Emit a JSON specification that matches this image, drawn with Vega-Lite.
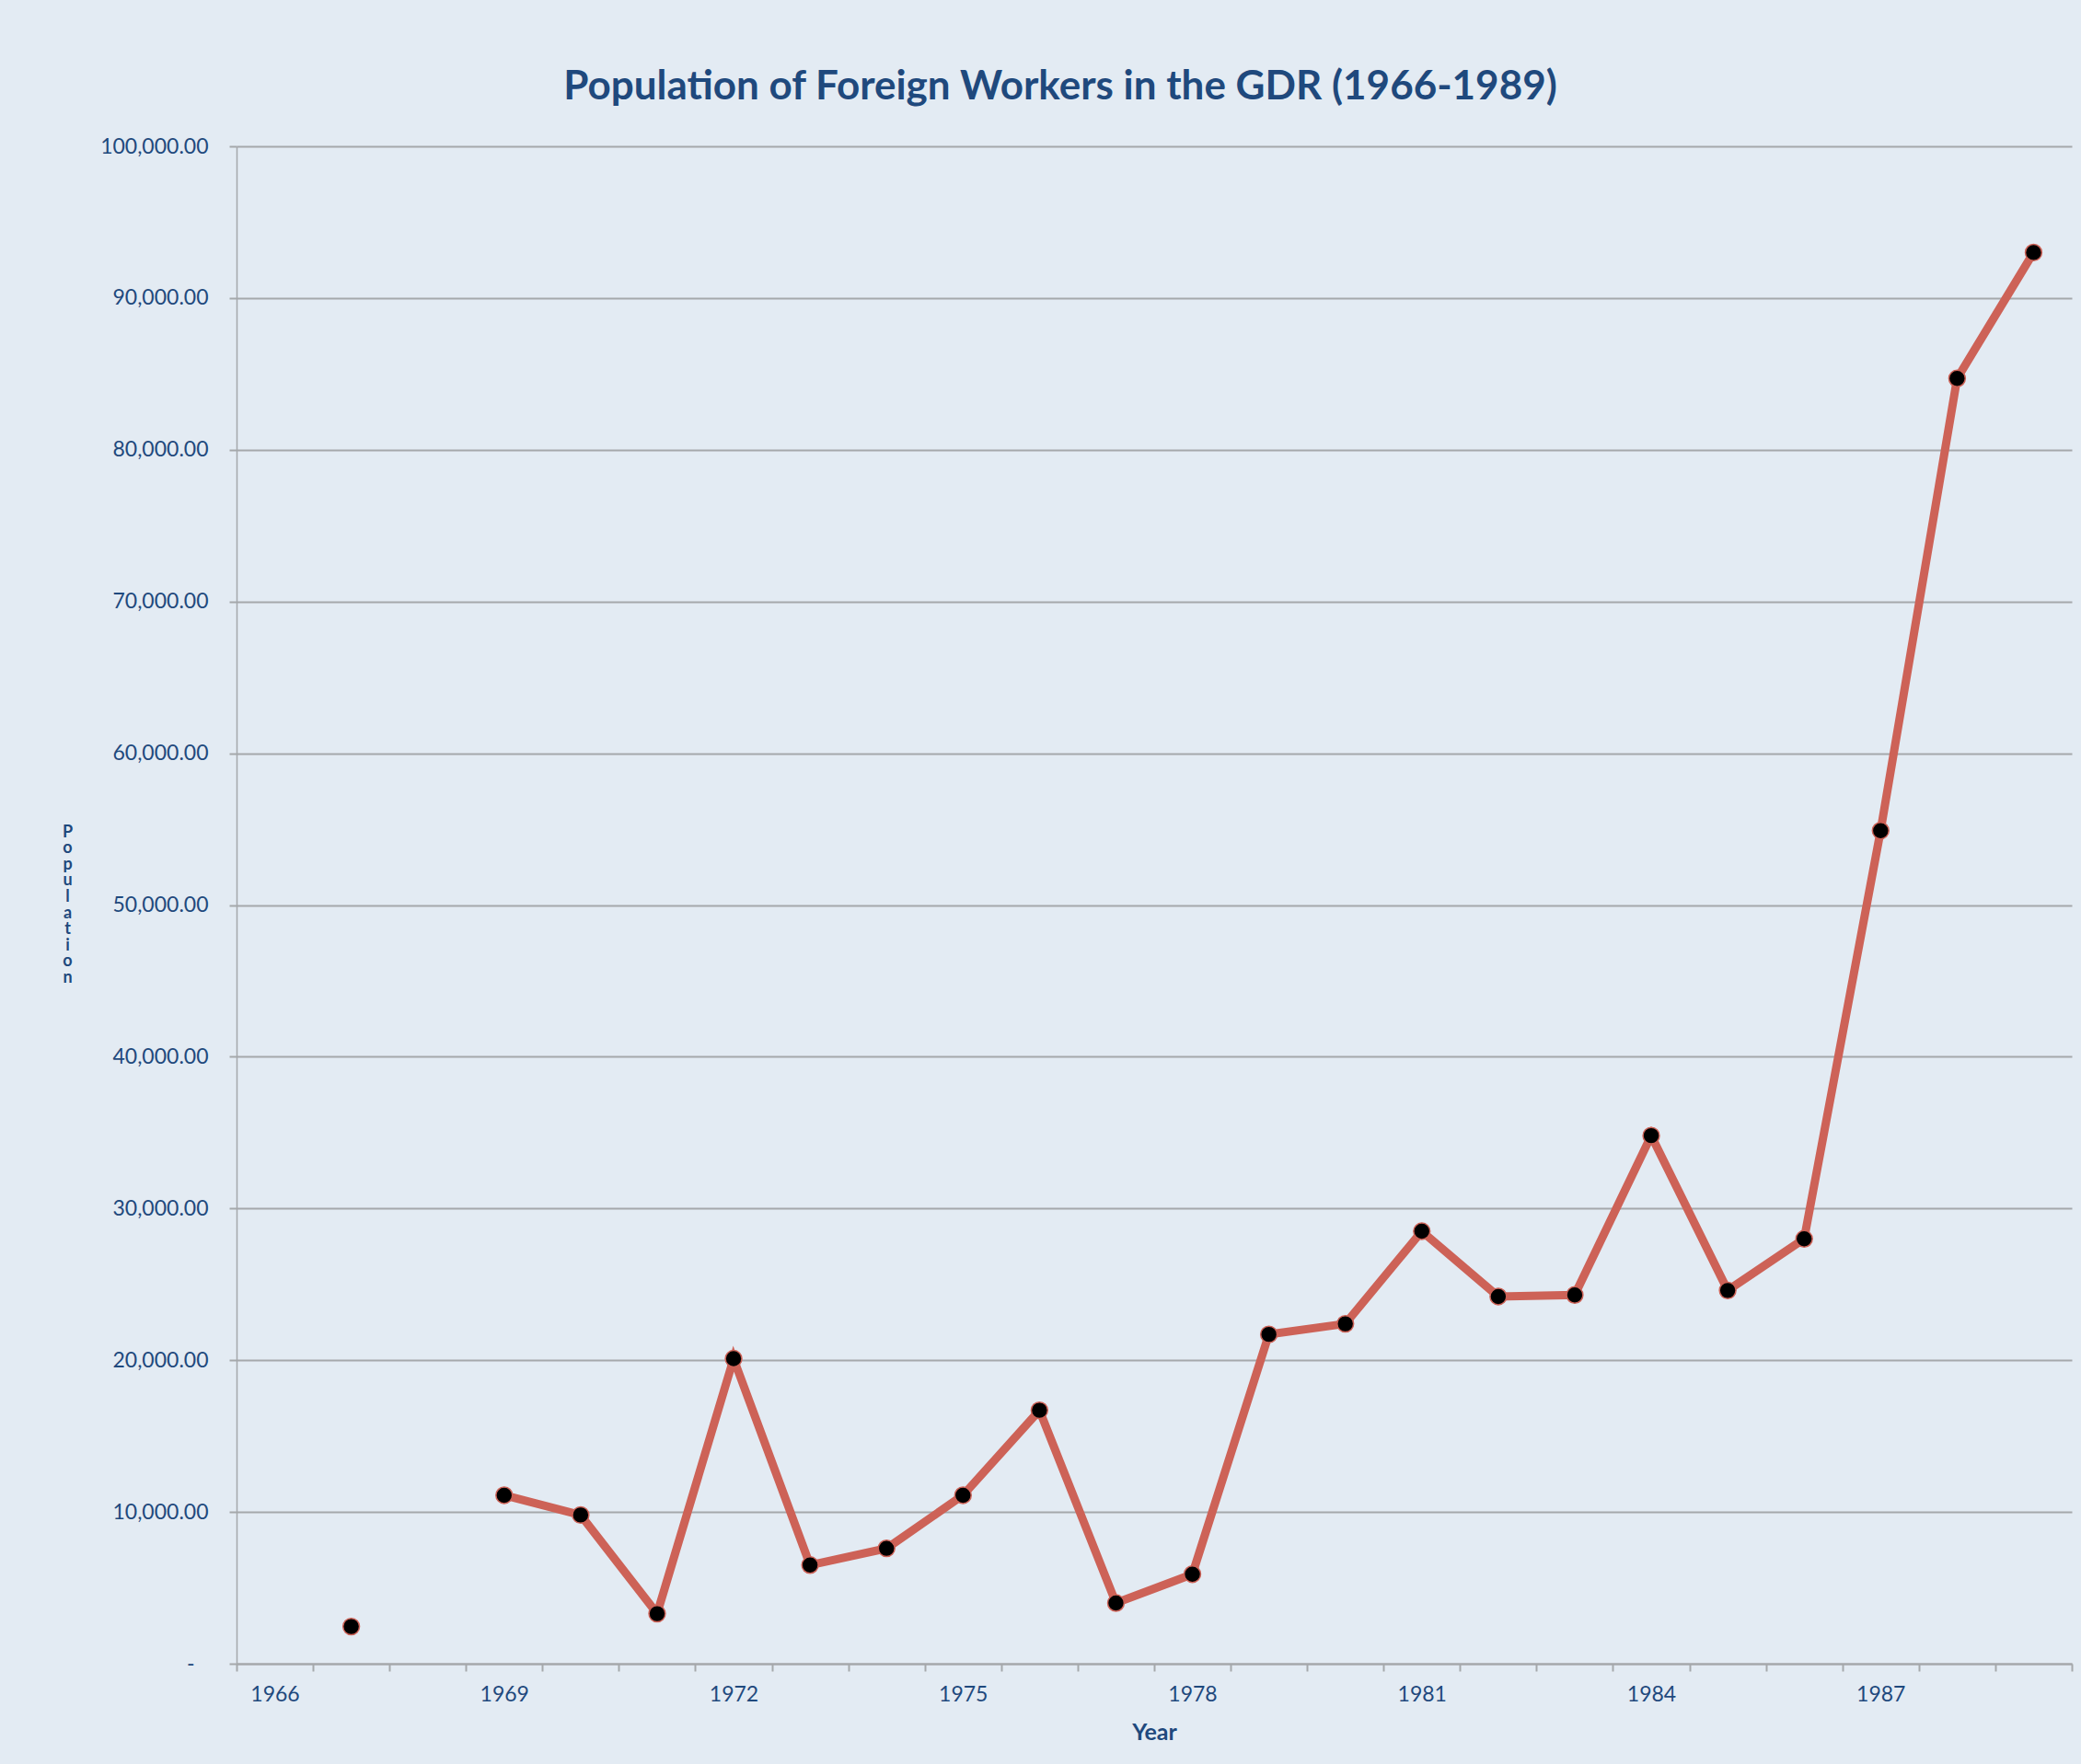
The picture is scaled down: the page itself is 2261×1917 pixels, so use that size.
{
  "$schema": "https://vega.github.io/schema/vega-lite/v6.json",
  "width": 1994,
  "height": 1649,
  "autosize": {"type": "none"},
  "padding": {"left": 257, "top": 159, "right": 10, "bottom": 109},
  "background": "#e3ebf3",
  "title": {
    "text": "Population of Foreign Workers in the GDR (1966-1989)",
    "font": "Lato",
    "fontSize": 44,
    "fontWeight": "bold",
    "color": "#1F497D",
    "anchor": "middle",
    "frame": "group",
    "baseline": "alphabetic",
    "offset": 33,
    "dx": -102,
    "dy": 37
  },
  "data": {
    "values": [
      {"Year": 1966, "Population": null},
      {"Year": 1967, "Population": 2450},
      {"Year": 1968, "Population": null},
      {"Year": 1969, "Population": 11100},
      {"Year": 1970, "Population": 9800},
      {"Year": 1971, "Population": 3300},
      {"Year": 1972, "Population": 20100},
      {"Year": 1973, "Population": 6500},
      {"Year": 1974, "Population": 7600},
      {"Year": 1975, "Population": 11100},
      {"Year": 1976, "Population": 16700},
      {"Year": 1977, "Population": 4000},
      {"Year": 1978, "Population": 5900},
      {"Year": 1979, "Population": 21700},
      {"Year": 1980, "Population": 22400},
      {"Year": 1981, "Population": 28500},
      {"Year": 1982, "Population": 24200},
      {"Year": 1983, "Population": 24300},
      {"Year": 1984, "Population": 34800},
      {"Year": 1985, "Population": 24600},
      {"Year": 1986, "Population": 28000},
      {"Year": 1987, "Population": 54900},
      {"Year": 1988, "Population": 84700},
      {"Year": 1989, "Population": 93000}
    ]
  },
  "encoding": {
    "x": {
      "field": "Year",
      "type": "ordinal",
      "bandPosition": 0.5,
      "scale": {
        "type": "band",
        "paddingInner": 0,
        "paddingOuter": 0,
        "domain": [1966, 1967, 1968, 1969, 1970, 1971, 1972, 1973, 1974, 1975, 1976, 1977, 1978, 1979, 1980, 1981, 1982, 1983, 1984, 1985, 1986, 1987, 1988, 1989]
      },
      "axis": {
        "title": "Year",
        "tickBand": "extent",
        "labelExpr": "(datum.value - 1966) % 3 == 0 ? datum.label : ''",
        "labelAngle": 0,
        "labelFont": "Lato",
        "labelFontSize": 23,
        "labelColor": "#1F497D",
        "labelPadding": 14,
        "labelOverlap": false,
        "tickSize": 8,
        "tickColor": "#a5a8ab",
        "tickWidth": 2,
        "domainColor": "#a5a8ab",
        "domainWidth": 2,
        "grid": false,
        "titleFont": "Lato",
        "titleFontSize": 25,
        "titleFontWeight": "bold",
        "titleColor": "#1F497D",
        "titleY": 74,
        "titleBaseline": "middle"
      }
    },
    "y": {
      "field": "Population",
      "type": "quantitative",
      "scale": {"domain": [0, 100000], "nice": false},
      "axis": {
        "title": ["P", "o", "p", "u", "l", "a", "t", "i", "o", "n"],
        "titleAngle": 0,
        "titleX": -184,
        "titleY": 745,
        "titleAlign": "center",
        "titleBaseline": "middle",
        "titleFont": "Lato",
        "titleFontSize": 18,
        "titleLineHeight": 17.6,
        "titleFontWeight": "bold",
        "titleColor": "#1F497D",
        "values": [0, 10000, 20000, 30000, 40000, 50000, 60000, 70000, 80000, 90000, 100000],
        "labelExpr": "datum.value == 0 ? '-' : format(datum.value, ',.2f')",
        "labelFont": "Lato",
        "labelFontSize": 23,
        "labelColor": "#1F497D",
        "labelPadding": {"condition": {"test": "datum.value == 0", "value": 38}, "value": 23},
        "tickSize": 8,
        "tickColor": "#a5a8ab",
        "tickWidth": 2,
        "grid": true,
        "gridColor": "#a5a8ab",
        "gridWidth": 2,
        "domainColor": "#a5a8ab",
        "domainWidth": 1.5
      }
    }
  },
  "layer": [
    {"mark": {"type": "line", "color": "#CD6257", "strokeWidth": 9}},
    {"mark": {"type": "point", "shape": "circle", "filled": true, "fill": "#000000", "stroke": "#CD6257", "strokeWidth": 1.5, "size": 320, "opacity": 1}}
  ],
  "config": {"view": {"stroke": null}, "font": "Lato"}
}
